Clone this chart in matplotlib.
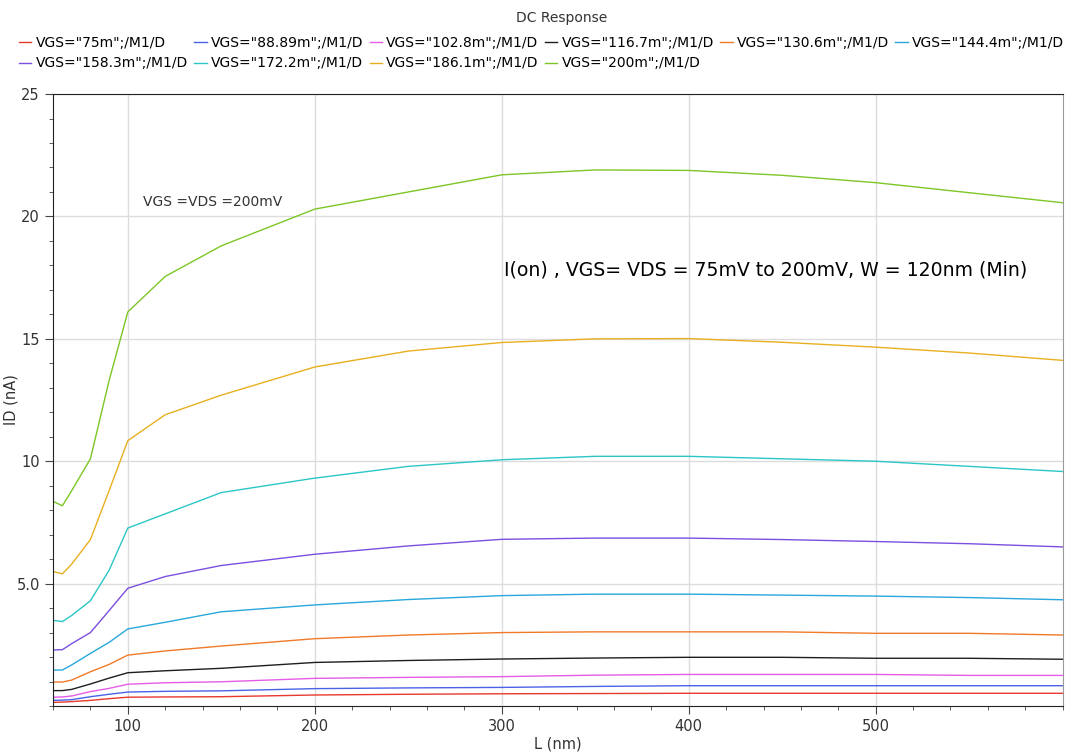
import matplotlib
matplotlib.use('Agg')
import matplotlib.pyplot as plt
from matplotlib.ticker import MultipleLocator, FixedLocator
import numpy as np

# sweep of channel length L (nm)
L = [60, 65, 70, 80, 90, 100, 120, 150, 200, 250, 300, 350, 400, 450, 500, 550, 600]

labels = ['VGS="75m";/M1/D', 'VGS="88.89m";/M1/D', 'VGS="102.8m";/M1/D',
          'VGS="116.7m";/M1/D', 'VGS="130.6m";/M1/D', 'VGS="144.4m";/M1/D',
          'VGS="158.3m";/M1/D', 'VGS="172.2m";/M1/D', 'VGS="186.1m";/M1/D',
          'VGS="200m";/M1/D']
colors = ['#e8392c', '#4a63e6', '#e65ce6', '#1e1e1e', '#f07a28', '#29a8dc',
          '#7b4fe0', '#2cc6c6', '#e8b020', '#7cc626']

# ID (nA)
id_75 = [0.15, 0.16, 0.18, 0.23, 0.30, 0.36, 0.37, 0.38, 0.45, 0.48, 0.50, 0.51, 0.52, 0.52, 0.52, 0.52, 0.52]
id_88 = [0.23, 0.24, 0.26, 0.38, 0.48, 0.57, 0.60, 0.62, 0.71, 0.74, 0.76, 0.80, 0.83, 0.83, 0.83, 0.83, 0.83]
id_102 = [0.36, 0.37, 0.41, 0.59, 0.72, 0.89, 0.95, 0.99, 1.13, 1.17, 1.20, 1.26, 1.29, 1.29, 1.29, 1.25, 1.25]
id_116 = [0.63, 0.63, 0.68, 0.90, 1.14, 1.36, 1.44, 1.54, 1.78, 1.86, 1.92, 1.96, 1.99, 1.99, 1.95, 1.95, 1.91]
id_130 = [0.98, 0.98, 1.06, 1.40, 1.70, 2.08, 2.25, 2.45, 2.75, 2.90, 3.00, 3.03, 3.03, 3.03, 2.97, 2.97, 2.90]
id_144 = [1.47, 1.47, 1.68, 2.15, 2.60, 3.15, 3.42, 3.85, 4.13, 4.35, 4.51, 4.57, 4.57, 4.53, 4.49, 4.43, 4.34]
id_158 = [2.29, 2.30, 2.55, 3.00, 3.90, 4.81, 5.29, 5.74, 6.20, 6.54, 6.81, 6.86, 6.86, 6.80, 6.72, 6.63, 6.50]
id_172 = [3.50, 3.45, 3.70, 4.30, 5.55, 7.27, 7.85, 8.72, 9.31, 9.79, 10.06, 10.20, 10.20, 10.10, 10.00, 9.79, 9.58]
id_186 = [5.49, 5.40, 5.80, 6.80, 8.80, 10.84, 11.90, 12.70, 13.85, 14.50, 14.85, 15.00, 15.01, 14.86, 14.66, 14.42, 14.12]
id_200 = [8.36, 8.18, 8.80, 10.10, 13.30, 16.10, 17.55, 18.80, 20.30, 21.00, 21.70, 21.90, 21.88, 21.68, 21.38, 20.97, 20.56]

curves = [id_75, id_88, id_102, id_116, id_130, id_144, id_158, id_172, id_186, id_200]

fig = plt.figure(figsize=(10.65, 7.53), dpi=100)
ax = fig.add_axes([0.0498, 0.0624, 0.948, 0.8127])

handles = []
for y, c, lab in zip(curves, colors, labels):
    h, = ax.plot(L, y, color=c, lw=1.0, label=lab)
    handles.append(h)

ax.set_xlim(60, 600)
ax.set_ylim(0, 25)
ax.xaxis.set_major_locator(FixedLocator([100, 200, 300, 400, 500]))
ax.xaxis.set_minor_locator(MultipleLocator(20))
ax.yaxis.set_major_locator(FixedLocator([5, 10, 15, 20, 25]))
ax.yaxis.set_minor_locator(MultipleLocator(1))
ax.set_yticklabels(['5.0', '10', '15', '20', '25'])
ax.tick_params(which='major', direction='out', length=6, colors='#444444', labelsize=10.5, labelcolor='#333333')
ax.tick_params(which='minor', direction='out', length=3, colors='#444444')
ax.grid(True, which='major', color='#dcdcdc', lw=1)
ax.set_axisbelow(True)
for s in ['left', 'bottom', 'top']:
    ax.spines[s].set_color('#222222')
ax.spines['right'].set_color('#999999')

ax.set_xlabel('L (nm)', fontsize=10.5, color='#333333', labelpad=2)
ax.set_ylabel('ID (nA)', fontsize=10.5, color='#333333')
ax.yaxis.set_label_coords(-0.034, 0.5)

ax.text(108, 20.6, 'VGS =VDS =200mV', fontsize=10, color='#333333', va='center')
ax.text(301, 17.8, 'I(on) , VGS= VDS = 75mV to 200mV, W = 120nm (Min)',
        fontsize=13.6, color='black', va='center')

fig.text(0.527, 0.985, 'DC Response', ha='center', va='top', fontsize=10, color='#333333')

# row-wise order for a 6-column legend (matplotlib fills by column)
order = [0, 6, 1, 7, 2, 8, 3, 9, 4, 5]
fig.legend([handles[i] for i in order], [labels[i] for i in order],
           loc='upper left', bbox_to_anchor=(0.010, 0.963), ncol=6, frameon=False,
           fontsize=10, handlelength=0.9, handletextpad=0.3, columnspacing=0.45,
           labelspacing=0.45, borderaxespad=0.2)

fig.savefig('out.png', dpi=100)
